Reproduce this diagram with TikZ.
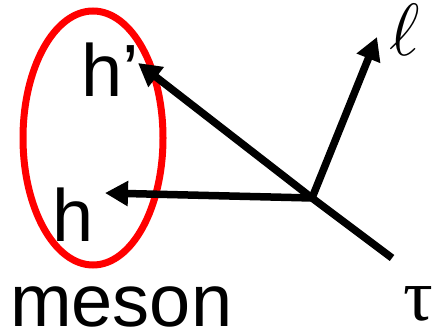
\RequirePackage{fix-cm}
\documentclass[tikz,border=0pt]{standalone}
\usepackage{fontspec}
\setmainfont{Liberation Sans}
\newfontfamily\greekfont{Liberation Serif}
\usetikzlibrary{arrows.meta}

\tikzset{
  particle/.style={line width=7.5pt, -{Triangle[length=23pt,width=24pt]}},
  incoming/.style={line width=7.5pt},
  lbl/.style={inner sep=0pt, anchor=base west, font=\fontsize{74}{80}\selectfont},
}

\begin{document}
\begin{tikzpicture}[x=1pt,y=1pt]
  \useasboundingbox (0,0) rectangle (438,334);
  % meson ring
  \draw[red, line width=7pt] (93,196) ellipse [x radius=70, y radius=127];
  \coordinate (v) at (312,136);
  \coordinate (t) at (392,76);
  \coordinate (hp) at (138,271);
  \coordinate (hh) at (105,141);
  \coordinate (l) at (377,297);
  \node[lbl] (hplabel) at (81,237) {h’};
  \node[lbl] (hlabel) at (52,92) {h};
  \node[lbl, text depth=0pt] (mesonlabel) at (10,8) {meson};
  \node[lbl] (elllabel) at (389,278) {$\ell$};
  \node[lbl] (taulabel) at (403,13) {\greekfont τ};
  \draw[incoming] (t) -- (v);
  \draw[particle] (v) -- (hp);
  \draw[particle] (v) -- (hh);
  \draw[particle] (v) -- (l);
\end{tikzpicture}
\end{document}
